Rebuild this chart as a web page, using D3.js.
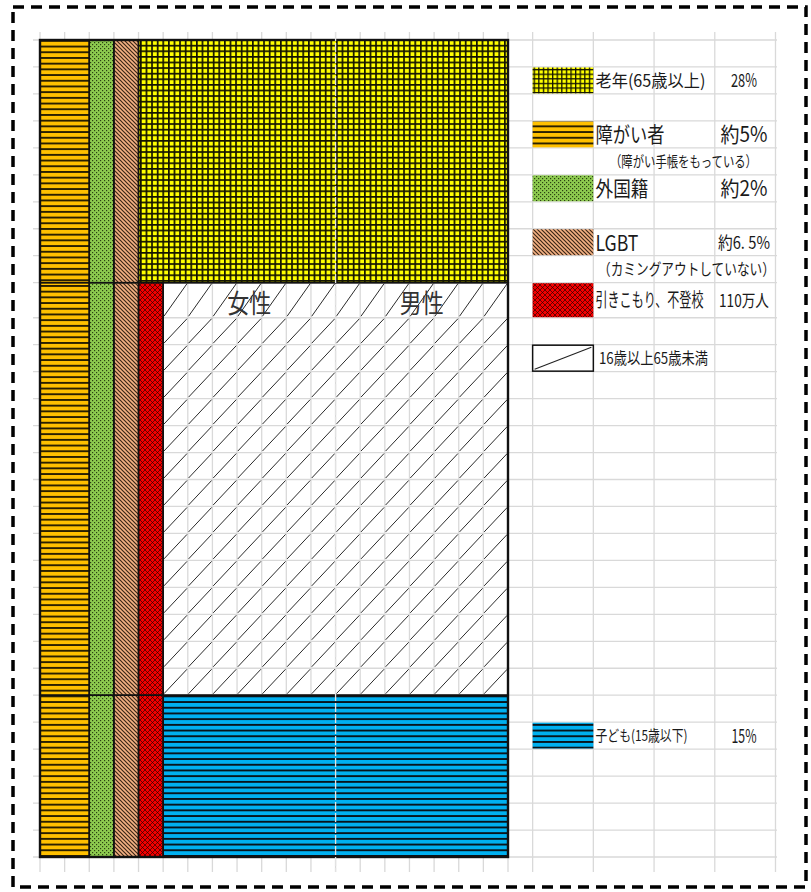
<!DOCTYPE html>
<html><head><meta charset="utf-8">
<script src="https://cdn.jsdelivr.net/npm/d3@7"></script>
<style>
body{margin:0;background:#fff}
svg{display:block}
text{font-family:"Noto Sans CJK JP","Noto Sans",sans-serif}
</style>
</head><body>
<svg id="c" width="811" height="892"></svg>
<script>
// ---------------- data ----------------
const ageGroups = ["老年(65歳以上)", "16歳以上65歳未満", "子ども(15歳以下)"];
const ageValues = ["28%", "", "15%"];
const ageRows = [9, 15.3, 6];              // band heights in sheet rows
const minorities = ["障がい者", "外国籍", "LGBT", "引きこもり、不登校"];
const minorityValues = ["約5%", "約2%", "約6. 5%", "110万人"];
const minorityNotes = ["（障がい手帳をもっている）", "", "（カミングアウトしていない）", ""];
const minorityCols = [2, 1, 1, 1];         // bar widths in sheet columns
const minorityPresent = [[1, 1, 1, 0], [1, 1, 1, 1], [1, 1, 1, 1]];
const genderLabels = ["女性", "男性"];
const totalCols = 19;

// ---------------- layout / style ----------------
const svg = d3.select("#c");
const x = d3.scaleLinear().domain([0, 19]).range([40, 508]);
const y = d3.scaleLinear().domain([0, 30.3]).range([40, 857]);
const sheetColEdges = d3.range(0, 21).concat([22.465, 24.93, 27.395, 29.86]);
const sheetRowEdges = d3.range(0, 10).concat(d3.range(10.3, 30.31, 1));
const rowTop = i => i <= 9 ? i : i + 0.3;
const rowBot = i => i < 9 ? i + 1 : i + 1.3;

const defs = svg.append("defs");
function stripes(id, bg, fg, period, lw) {
  const p = defs.append("pattern").attr("id", id).attr("patternUnits", "userSpaceOnUse")
    .attr("width", 8).attr("height", period);
  p.append("rect").attr("width", 8).attr("height", period).attr("fill", bg);
  p.append("rect").attr("width", 8).attr("height", lw).attr("fill", fg);
}
function gridPat(id, bg, fg, period, lw) {
  const p = defs.append("pattern").attr("id", id).attr("patternUnits", "userSpaceOnUse")
    .attr("width", period).attr("height", period);
  p.append("rect").attr("width", period).attr("height", period).attr("fill", bg);
  p.append("rect").attr("width", period).attr("height", lw).attr("fill", fg);
  p.append("rect").attr("width", lw).attr("height", period).attr("fill", fg);
}
stripes("p-orange", "#FFC000", "#2a2000", 5.7, 1.9);
stripes("p-blue", "#00B0F0", "#08151c", 5.7, 1.9);
gridPat("p-yellow", "#FFFF00", "#141400", 5.6, 1.7);
gridPat("p-yellow-l", "#FFFF00", "#141400", 4.6, 1.3);
{
  const p = defs.append("pattern").attr("id", "p-green").attr("patternUnits", "userSpaceOnUse")
    .attr("width", 4).attr("height", 4);
  p.append("rect").attr("width", 4).attr("height", 4).attr("fill", "#8DCB4F");
  p.append("rect").attr("x", 0).attr("y", 0).attr("width", 1.2).attr("height", 1.2).attr("fill", "#2c4212");
  p.append("rect").attr("x", 2).attr("y", 2).attr("width", 1.2).attr("height", 1.2).attr("fill", "#2c4212");
}
{
  const p = defs.append("pattern").attr("id", "p-lgbt").attr("patternUnits", "userSpaceOnUse")
    .attr("width", 4).attr("height", 4);
  p.append("rect").attr("width", 4).attr("height", 4).attr("fill", "#F4B183");
  p.append("path").attr("d", "M-1,-1L5,5M-1,3L1,5M3,-1L5,1").attr("stroke", "#3b2616").attr("stroke-width", 1.2);
}
{
  const p = defs.append("pattern").attr("id", "p-red").attr("patternUnits", "userSpaceOnUse")
    .attr("width", 5).attr("height", 5);
  p.append("rect").attr("width", 5).attr("height", 5).attr("fill", "#F20000");
  p.append("path").attr("d", "M0,0L5,5M5,0L0,5").attr("stroke", "#6a0000").attr("stroke-width", 1);
  p.append("rect").attr("x", 2).attr("y", 2).attr("width", 1).attr("height", 1).attr("fill", "#3a0000");
}
const minorityFill = ["url(#p-orange)", "url(#p-green)", "url(#p-lgbt)", "url(#p-red)"];
const ageFill = ["url(#p-yellow)", "none", "url(#p-blue)"];
const ageLegendFill = ["url(#p-yellow-l)", "#fff", "url(#p-blue)"];

svg.append("rect").attr("width", 811).attr("height", 892).attr("fill", "#fff");

// ---------------- sheet grid ----------------
const gridG = svg.append("g").attr("stroke", "#d9d9d9").attr("stroke-width", 1.3);
gridG.selectAll("line.v").data(sheetColEdges).join("line").attr("class", "v")
  .attr("x1", d => x(d)).attr("x2", d => x(d)).attr("y1", 32).attr("y2", 872);
gridG.selectAll("line.h").data(sheetRowEdges).join("line").attr("class", "h")
  .attr("y1", d => y(d)).attr("y2", d => y(d)).attr("x1", 33).attr("x2", 777);

// ---------------- chart ----------------
const chart = svg.append("g");
const rowStarts = d3.cumsum([0].concat(ageRows));
const bands = [];
ageGroups.forEach((g, gi) => {
  let c = 0;
  minorities.forEach((m, mi) => {
    if (minorityPresent[gi][mi]) {
      bands.push({x0: c, x1: c + minorityCols[mi], y0: rowStarts[gi], y1: rowStarts[gi + 1], fill: minorityFill[mi]});
      c += minorityCols[mi];
    }
  });
  bands.push({x0: c, x1: totalCols, y0: rowStarts[gi], y1: rowStarts[gi + 1], fill: ageFill[gi], main: gi});
});
chart.selectAll("rect.band").data(bands).join("rect").attr("class", "band")
  .attr("x", d => x(d.x0)).attr("y", d => y(d.y0))
  .attr("width", d => x(d.x1) - x(d.x0)).attr("height", d => y(d.y1) - y(d.y0))
  .attr("fill", d => d.fill);

// hatch for 16-65 band: cell diagonals
const hb = bands.find(b => b.main === 1);
const hatchCells = [];
for (let c = hb.x0; c < hb.x1; c++) {
  for (let r = 9; r < 24; r++) hatchCells.push({c, r});
}
chart.append("g").attr("stroke", "#2b2b2b").attr("stroke-width", 1)
  .selectAll("line").data(hatchCells).join("line")
  .attr("x1", d => x(d.c) + 0.8).attr("y1", d => y(rowBot(d.r)) - 1.5)
  .attr("x2", d => x(d.c + 1) - 0.8).attr("y2", d => y(rowTop(d.r)) + 1);

chart.selectAll("rect.edge").data(bands).join("rect").attr("class", "edge")
  .attr("x", d => x(d.x0)).attr("y", d => y(d.y0))
  .attr("width", d => x(d.x1) - x(d.x0)).attr("height", d => y(d.y1) - y(d.y0))
  .attr("fill", "none").attr("stroke", "#111").attr("stroke-width", 1.5);
chart.append("rect").attr("x", x(0)).attr("y", y(0)).attr("width", x(19) - x(0)).attr("height", y(30.3) - y(0))
  .attr("fill", "none").attr("stroke", "#111").attr("stroke-width", 2.4);

// page break line
svg.append("line").attr("x1", x(12)).attr("x2", x(12)).attr("y1", 32).attr("y2", 872)
  .attr("stroke", "#e2e2e2").attr("stroke-width", 1.3).attr("stroke-dasharray", "9,2");

const lg = svg.append("g");
function fitText(str, x0, cy, fs, w, fill) {
  const t = lg.append("text").attr("font-size", fs).attr("fill", fill || "#1a1a1a").text(str);
  const nat = t.node().getComputedTextLength() || w;
  t.attr("transform", `translate(${x0},${cy + 0.38 * fs}) scale(${w / nat},1)`);
}

// gender labels
const gx = d3.scaleBand().domain(genderLabels).range([x(hb.x0), x(hb.x1)]);
genderLabels.forEach(g => fitText(g, gx(g) + gx.bandwidth() / 2 - 22, 303, 26, 44, "#333"));

// ---------------- legend ----------------
const legendItems = [
  {name: ageGroups[0], value: ageValues[0], fill: ageLegendFill[0]},
  {name: minorities[0], value: minorityValues[0], fill: minorityFill[0], note: minorityNotes[0], ns: 0},
  {name: minorities[1], value: minorityValues[1], fill: minorityFill[1]},
  {name: minorities[2], value: minorityValues[2], fill: minorityFill[2], note: minorityNotes[2], ns: 1},
  {name: minorities[3], value: minorityValues[3], fill: minorityFill[3]},
  {name: ageGroups[1], value: ageValues[1], fill: ageLegendFill[1], hatch: true},
  {name: ageGroups[2], value: ageValues[2], fill: ageLegendFill[2]}
];
const legendRows = [1, 3, 5, 7, 9, 11, 25];
const nameStyle = [[17, 110], [21, 69], [21, 53], [22, 43], [19, 108], [16, 109], [15, 92]];
const valueStyle = [[18, 26], [21, 47], [21, 47], [17, 52], [17, 50], [14, 0], [19, 25]];
const noteStyle = [[15, 147, 610], [16, 177, 598]];
legendItems.forEach((d, i) => {
  const r = legendRows[i];
  const y0 = y(rowTop(r)), y1 = y(rowBot(r)), cy = (y0 + y1) / 2;
  const sx0 = x(20), sx1 = x(22.465);
  lg.append("rect").attr("x", sx0).attr("y", y0 + 0.5).attr("width", sx1 - sx0).attr("height", y1 - y0 - 1)
    .attr("fill", d.fill).attr("stroke", d.hatch ? "#111" : "none").attr("stroke-width", 1.5);
  if (d.hatch) {
    lg.append("line").attr("x1", sx0 + 2).attr("y1", y1 - 2.5).attr("x2", sx1 - 2).attr("y2", y0 + 2.5)
      .attr("stroke", "#222").attr("stroke-width", 1.1);
  }
  const [nf, nw] = nameStyle[i];
  fitText(d.name, d.hatch ? 599 : 595.5, cy, nf, nw);
  if (d.value) {
    const [vf, vw] = valueStyle[i];
    fitText(d.value, 744 - vw / 2, cy, vf, vw);
  }
  if (d.note) {
    const ns = noteStyle[d.ns];
    const ncy = (y(rowTop(r + 1)) + y(rowBot(r + 1))) / 2;
    fitText(d.note, ns[2], ncy, ns[0], ns[1]);
  }
});

// outer dashed frame
svg.append("rect").attr("x", 13).attr("y", 7).attr("width", 793).attr("height", 880)
  .attr("fill", "none").attr("stroke", "#000").attr("stroke-width", 3.5).attr("stroke-dasharray", "11,7");
</script>
</body></html>
